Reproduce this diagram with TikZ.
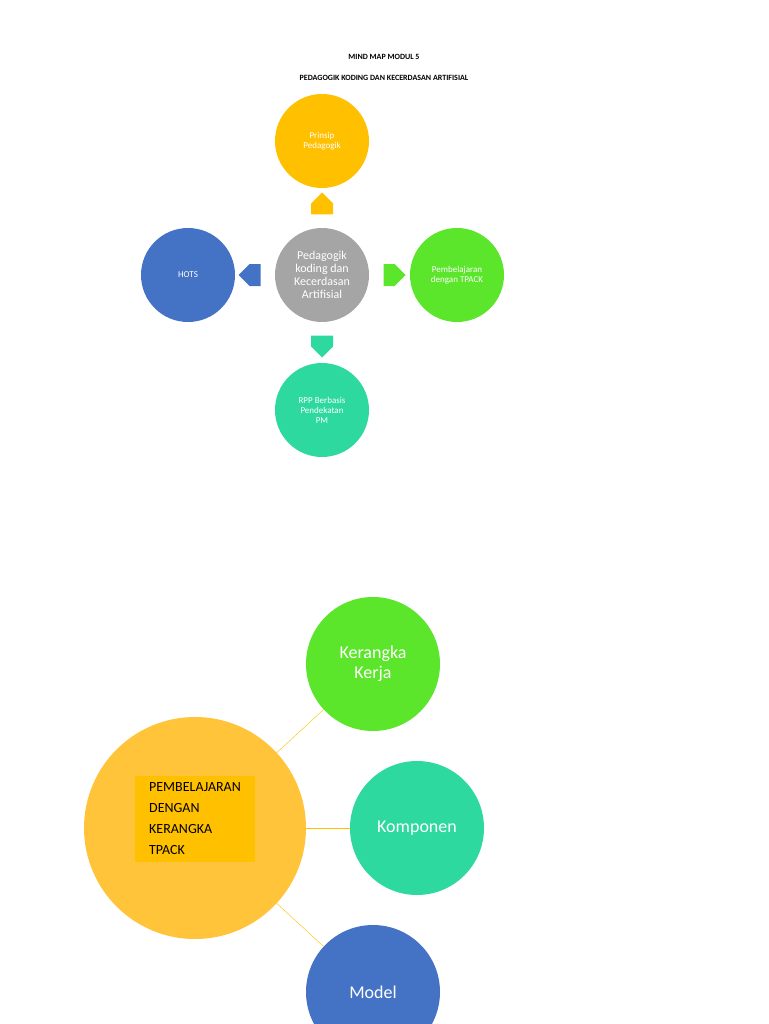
\documentclass[tikz,border=0pt]{standalone}
\usepackage{fontspec}
\setmainfont{Carlito}
\usetikzlibrary{shapes.arrows}
\definecolor{mmgray}{HTML}{A5A5A5}
\definecolor{mmyellow}{HTML}{FFC000}
\definecolor{mmblue}{HTML}{4472C4}
\definecolor{mmgreen}{HTML}{5BE52B}
\definecolor{mmteal}{HTML}{2ED9A0}
\definecolor{mmbig}{HTML}{FFC43A}
\begin{document}
\begin{tikzpicture}[
    x=1pt, y=-1pt,
    small/.style={circle, minimum size=94pt, inner sep=0pt, align=center,
                  text=white, font=\fontsize{9}{10}\selectfont},
    mid/.style={circle, minimum size=134pt, inner sep=0pt, align=center,
                text=white, font=\fontsize{18}{20}\selectfont},
    blk/.style={single arrow, minimum height=22pt, minimum width=22pt,
                single arrow head extend=0pt, inner sep=2pt},
    link/.style={draw=mmyellow, thin}
  ]
    \useasboundingbox (0,0) rectangle (768,1024);
    \node[font=\bfseries\fontsize{8}{9}\selectfont] (title) at (384,57) {MIND MAP MODUL 5};
    \node[font=\bfseries\fontsize{8}{9}\selectfont] (subtitle) at (384,78) {PEDAGOGIK KODING DAN KECERDASAN ARTIFISIAL};

    \node[small, fill=mmgray, font=\fontsize{12}{13}\selectfont] (core) at (322,275)
      {Pedagogik\\koding dan\\Kecerdasan\\Artifisial};
    \node[small, fill=mmyellow] (prinsip) at (322,141) {Prinsip\\Pedagogik};
    \node[small, fill=mmblue]   (hots)    at (188,275) {HOTS};
    \node[small, fill=mmgreen]  (tpack)   at (457,275) {Pembelajaran\\dengan TPACK};
    \node[small, fill=mmteal]   (rpp)     at (322,410) {RPP Berbasis\\Pendekatan\\PM};

    \node[blk, fill=mmyellow, shape border rotate=90]  (aup)    at (322,209) {};
    \node[blk, fill=mmblue,   shape border rotate=180] (aleft)  at (255,275) {};
    \node[blk, fill=mmgreen]                           (aright) at (389,275) {};
    \node[blk, fill=mmteal,   shape border rotate=270] (adown)  at (322,341) {};

    \node[circle, fill=mmbig, minimum size=222pt, inner sep=0pt] (big) at (195,828) {};
    \node[fill=mmyellow, minimum width=120pt, minimum height=86pt, align=left,
          font=\fontsize{14}{21}\selectfont] (bigtext) at (195,819)
      {PEMBELAJARAN\\DENGAN\\KERANGKA\\TPACK};
    \node[mid, fill=mmgreen] (kerja)    at (373,664) {Kerangka\\Kerja};
    \node[mid, fill=mmteal]  (komponen) at (417,828) {Komponen};
    \node[mid, fill=mmblue]  (model)    at (373,992) {Model};

    \draw[link] (big) -- (kerja);
    \draw[link] (big) -- (komponen);
    \draw[link] (big) -- (model);
  \end{tikzpicture}
\end{document}
